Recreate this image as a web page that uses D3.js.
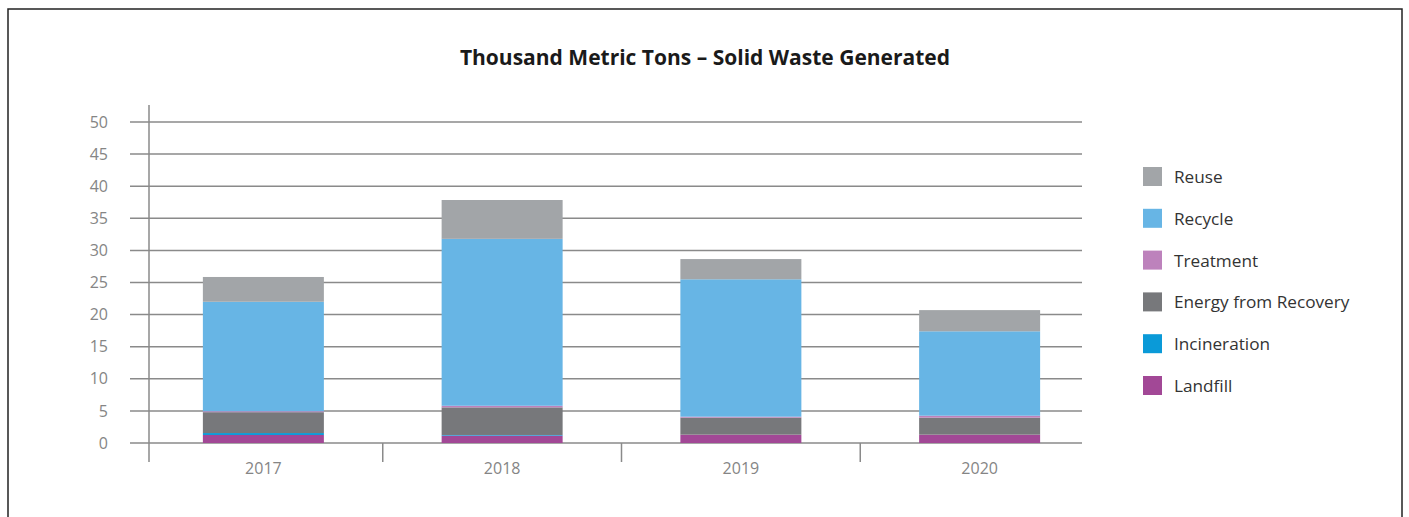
<!DOCTYPE html>
<html>
<head>
<meta charset="utf-8">
<script src="https://cdn.jsdelivr.net/npm/d3@7"></script>
<style>
  body { margin: 0; background: #fff; }
  text { font-family: "Open Sans", sans-serif; }
</style>
</head>
<body>
<div id="chart"></div>
<script>
/* DATA */
const years = ["2017", "2018", "2019", "2020"];
const landfill = [1.25, 1.15, 1.3, 1.3];
const incineration = [0.3, 0.1, 0, 0];
const energy = [3.25, 4.3, 2.65, 2.65];
const treatment = [0.15, 0.25, 0.15, 0.3];
const recycle = [17.05, 26.0, 21.4, 13.15];
const reuse = [3.86, 6.05, 3.15, 3.3];
const yTicks = [0, 5, 10, 15, 20, 25, 30, 35, 40, 45, 50];

// bottom to top
const seriesNames = ["Landfill", "Incineration", "Energy from Recovery", "Treatment", "Recycle", "Reuse"];
const seriesValues = [landfill, incineration, energy, treatment, recycle, reuse];
const colors = ["#a24896", "#0a9ad8", "#77787b", "#bd82bc", "#67b5e5", "#a2a5a8"];

/* CONSTANTS */
const width = 1409, height = 517;

const svg = d3.select("#chart").append("svg")
  .attr("width", width)
  .attr("height", height);

// frame
svg.append("rect")
  .attr("x", 8).attr("y", 9)
  .attr("width", 1394).attr("height", 530)
  .attr("fill", "none")
  .attr("stroke", "#222")
  .attr("stroke-width", 1.5);

// title
svg.append("text")
  .attr("x", 705).attr("y", 65)
  .attr("text-anchor", "middle")
  .attr("font-size", 21)
  .attr("font-weight", "bold")
  .attr("fill", "#1a1a1a")
  .text("Thousand Metric Tons \u2013 Solid Waste Generated");

/* SCALES */
const yScale = d3.scaleLinear().domain([0, 50]).range([443, 122]);
const xScale = d3.scaleBand().domain(years).range([144, 1099]);

// table for stacking
const table = years.map((y, i) => {
  const row = { year: y };
  seriesNames.forEach((s, j) => row[s] = seriesValues[j][i]);
  return row;
});
const stacked = d3.stack().keys(seriesNames)(table);

/* GRIDLINES + Y LABELS */
svg.append("g")
  .selectAll("line")
  .data(yTicks)
  .join("line")
  .attr("x1", 130).attr("x2", 1082)
  .attr("y1", d => yScale(d)).attr("y2", d => yScale(d))
  .attr("stroke", "#8a8a8a")
  .attr("stroke-width", 1.5);

svg.append("g")
  .selectAll("text")
  .data(yTicks)
  .join("text")
  .attr("x", 108)
  .attr("y", d => yScale(d))
  .attr("dy", "0.35em")
  .attr("text-anchor", "end")
  .attr("font-size", 16)
  .attr("fill", "#858585")
  .text(d => d);

/* BARS */
const barW = 121;
svg.append("g")
  .selectAll("g")
  .data(stacked)
  .join("g")
  .attr("fill", (d, i) => colors[i])
  .selectAll("rect")
  .data(d => d)
  .join("rect")
  .attr("x", d => xScale(d.data.year) + xScale.bandwidth() / 2 - barW / 2)
  .attr("width", barW)
  .attr("y", d => yScale(d[1]))
  .attr("height", d => yScale(d[0]) - yScale(d[1]));

/* AXES LINES */
svg.append("line")
  .attr("x1", 149).attr("x2", 149)
  .attr("y1", 105).attr("y2", 462)
  .attr("stroke", "#8a8a8a")
  .attr("stroke-width", 1.5);

svg.append("g")
  .selectAll("line")
  .data(years.slice(1))
  .join("line")
  .attr("x1", d => xScale(d)).attr("x2", d => xScale(d))
  .attr("y1", 443).attr("y2", 462)
  .attr("stroke", "#8a8a8a")
  .attr("stroke-width", 1.5);

svg.append("g")
  .selectAll("text")
  .data(years)
  .join("text")
  .attr("x", d => xScale(d) + xScale.bandwidth() / 2)
  .attr("y", 474)
  .attr("text-anchor", "middle")
  .attr("font-size", 16)
  .attr("fill", "#858585")
  .text(d => d);

/* LEGEND */
const legendOrder = seriesNames.map((s, i) => ({ name: s, color: colors[i] })).reverse();
const legend = svg.append("g")
  .selectAll("g")
  .data(legendOrder)
  .join("g")
  .attr("transform", (d, i) => `translate(1143,${167 + i * 41.8})`);

legend.append("rect")
  .attr("width", 19).attr("height", 19)
  .attr("fill", d => d.color);

legend.append("text")
  .attr("x", 31).attr("y", 10)
  .attr("dy", "0.35em")
  .attr("font-size", 17.2)
  .attr("fill", "#333")
  .text(d => d.name);
</script>
</body>
</html>
